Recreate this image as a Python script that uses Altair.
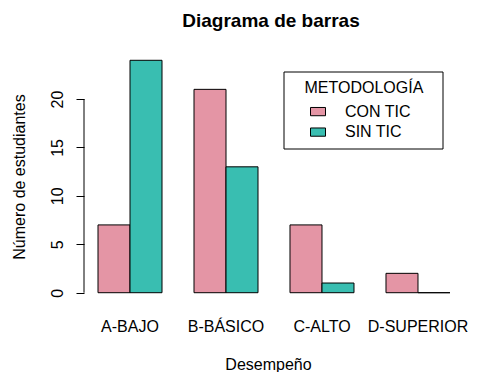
import altair as alt
import pandas as pd

categorias = ["A-BAJO", "B-BÁSICO", "C-ALTO", "D-SUPERIOR"]
con_tic = [7, 21, 7, 2]
sin_tic = [24, 13, 1, 0]
metodologias = ["CON TIC", "SIN TIC"]
colores = ["#E495A5", "#39BEB1"]
y_ticks = [0, 5, 10, 15, 20]

rows = []
for i, c in enumerate(categorias):
    rows.append({"desempeno": c, "metodologia": metodologias[0], "n": con_tic[i]})
    rows.append({"desempeno": c, "metodologia": metodologias[1], "n": sin_tic[i]})
df = pd.DataFrame(rows)

FONT = "Liberation Sans"
YTITLE = "Número de estudiantes"
yscale = alt.Scale(domain=[-0.96, 24.96], nice=False, zero=False)

bars = alt.Chart(df).mark_bar(stroke="black", strokeWidth=1).encode(
    x=alt.X(
        "desempeno:N",
        sort=categorias,
        title="Desempeño",
        scale=alt.Scale(paddingInner=1 / 3, paddingOuter=0.146),
        axis=alt.Axis(
            domain=False, ticks=False, tickSize=0, labelAngle=0,
            labelFontSize=16, labelColor="black", labelPadding=16, labelFont=FONT,
            titleFontSize=16, titleFontWeight="normal", titleColor="black", titleFont=FONT,
            titleX=184, titleY=67.5, titleBaseline="alphabetic", titleAlign="center",
        ),
    ),
    xOffset=alt.XOffset("metodologia:N", sort=metodologias,
                        scale=alt.Scale(paddingInner=0, paddingOuter=0)),
    y=alt.Y(
        "n:Q",
        scale=yscale,
        title=YTITLE,
        axis=alt.Axis(
            values=y_ticks, domain=False, grid=False, tickSize=8, tickColor="black",
            tickWidth=1, labelAngle=270, labelAlign="center", labelBaseline="alphabetic",
            labelPadding=14, labelFontSize=16, labelColor="black", labelFont=FONT,
            titleFontSize=16, titleFontWeight="normal", titleColor="black", titleFont=FONT,
            titleAngle=270, titleAlign="center", titleBaseline="alphabetic",
            titleX=-60, titleY=125.5,
        ),
    ),
    y2=alt.datum(0),
    color=alt.Color(
        "metodologia:N",
        sort=metodologias,
        scale=alt.Scale(domain=metodologias, range=colores),
        legend=alt.Legend(
            orient="none", legendX=220.5, legendY=28.6, title="METODOLOGÍA",
            titleFontSize=16, titleFontWeight="normal", titleColor="black", titleFont=FONT,
            labelFontSize=16, labelColor="black", labelFont=FONT,
            symbolType="M-1,-0.55L1,-0.55L1,0.55L-1,0.55Z", symbolSize=225,
            symbolStrokeColor="black", symbolStrokeWidth=1, symbolOpacity=1,
            symbolOffset=5.5, labelOffset=19, rowPadding=4.5, titlePadding=8, padding=0,
        ),
    ),
)

axis_line = alt.Chart(pd.DataFrame({"lo": [y_ticks[0]], "hi": [y_ticks[-1]]})).mark_rule(
    color="black", strokeWidth=1
).encode(
    x=alt.value(0),
    y=alt.Y("lo:Q", scale=yscale, title=YTITLE),
    y2="hi:Q",
)

legend_box = alt.Chart(pd.DataFrame({"a": [0]})).mark_rect(
    fill="transparent", stroke="black", strokeWidth=1
).encode(
    x=alt.value(200), x2=alt.value(359), y=alt.value(21), y2=alt.value(98)
)

chart = alt.layer(bars, axis_line, legend_box).properties(
    width=380,
    height=251,
    title=alt.TitleParams(
        "Diagrama de barras", fontSize=19, fontWeight="bold", font=FONT, color="black",
        anchor="middle", frame="group", offset=5, baseline="alphabetic", dx=-3,
    ),
    autosize=alt.AutoSizeParams(type="none"),
    padding={"left": 76, "top": 43, "right": 12, "bottom": 70},
).configure(font=FONT).configure_view(stroke=None)

chart.save("out.html", embed_options={"renderer": "svg", "actions": False})
